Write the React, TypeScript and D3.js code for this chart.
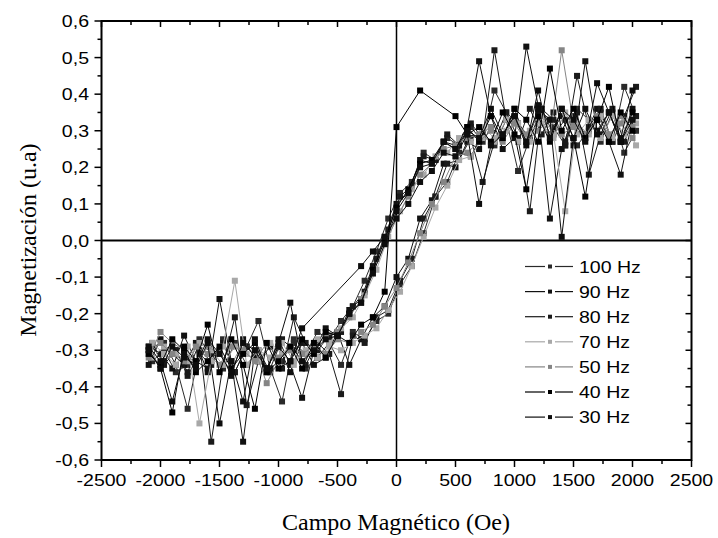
import React, { useEffect, useRef } from 'react';
import * as d3 from 'd3';

// Field values (Oe) of the two sampling grids, descending sweep order
const fieldA = [2030, 1930, 1830, 1730, 1630, 1530, 1430, 1330, 1230, 1130, 1030, 930, 830, 730, 630, 530, 430, 330, 230, 130, 30, -70, -170, -270, -370, -470, -570, -670, -770, -870, -970, -1070, -1170, -1270, -1370, -1470, -1570, -1670, -1770, -1870, -1970, -2070];
const fieldB = [2000, 1900, 1800, 1700, 1600, 1500, 1400, 1300, 1200, 1100, 1000, 900, 800, 700, 600, 500, 400, 300, 200, 100, 0, -100, -200, -300, -400, -500, -600, -700, -800, -900, -1000, -1100, -1200, -1300, -1400, -1500, -1600, -1700, -1800, -1900, -2000, -2100];

// Magnetization (u.a): "down" = decreasing-field branch, "up" = increasing-field branch (same index as field)
const down100 = [0.34, 0.42, 0.27, 0.35, 0.30, 0.26, 0.33, 0.29, 0.36, 0.28, 0.32, 0.35, 0.41, 0.27, 0.31, 0.26, 0.28, 0.22, 0.24, 0.16, 0.13, 0.06, -0.03, -0.11, -0.18, -0.22, -0.27, -0.25, -0.31, -0.28, -0.44, -0.35, -0.22, -0.29, -0.36, -0.27, -0.33, -0.30, -0.46, -0.34, -0.28, -0.29];
const up100 = [0.30, 0.24, 0.35, 0.27, 0.33, 0.36, 0.26, 0.31, 0.35, 0.28, 0.19, 0.33, 0.26, 0.29, 0.23, 0.24, 0.16, 0.12, 0.02, -0.07, -0.12, -0.20, -0.22, -0.27, -0.25, -0.34, -0.28, -0.32, -0.35, -0.27, -0.33, -0.36, -0.30, -0.34, -0.28, -0.35, -0.31, -0.27, -0.34, -0.36, -0.30, -0.33];
const down90 = [0.36, 0.27, 0.35, 0.30, 0.49, 0.26, 0.34, 0.29, 0.37, 0.53, 0.28, 0.25, 0.34, 0.49, 0.31, 0.26, 0.27, 0.21, 0.22, 0.13, 0.10, 0.01, -0.07, -0.16, -0.19, -0.26, -0.24, -0.30, -0.43, -0.34, -0.27, -0.36, -0.30, -0.55, -0.33, -0.16, -0.36, -0.28, -0.34, -0.31, -0.27, -0.34];
const up90 = [0.33, 0.18, 0.27, 0.36, 0.29, 0.34, 0.25, 0.06, 0.35, 0.27, 0.36, 0.28, 0.31, 0.25, 0.27, 0.20, 0.21, 0.11, 0.06, -0.05, -0.10, -0.18, -0.21, -0.27, -0.34, -0.25, -0.32, -0.34, -0.28, -0.36, -0.29, -0.35, -0.32, -0.27, -0.37, -0.30, -0.35, -0.33, -0.26, -0.35, -0.31, -0.29];
const down80 = [0.42, 0.34, 0.27, 0.36, 0.31, 0.45, 0.26, 0.35, 0.29, 0.36, 0.27, 0.33, 0.52, 0.28, 0.32, 0.26, 0.29, 0.22, 0.23, 0.15, 0.12, 0.03, -0.05, -0.14, -0.18, -0.25, -0.26, -0.30, -0.28, -0.21, -0.35, -0.29, -0.33, -0.45, -0.21, -0.34, -0.55, -0.28, -0.36, -0.30, -0.34, -0.28];
const up80 = [0.34, 0.27, 0.36, 0.29, 0.18, 0.35, 0.27, 0.33, 0.36, 0.08, 0.28, 0.35, 0.27, 0.16, 0.28, 0.22, 0.21, 0.12, 0.06, -0.05, -0.11, -0.19, -0.21, -0.28, -0.26, -0.42, -0.31, -0.28, -0.34, -0.30, -0.27, -0.35, -0.33, -0.29, -0.36, -0.28, -0.34, -0.31, -0.37, -0.30, -0.33, -0.29];
const down70 = [0.26, 0.33, 0.28, 0.34, 0.29, 0.32, 0.08, 0.29, 0.34, 0.27, 0.32, 0.30, 0.28, 0.31, 0.27, 0.28, 0.24, 0.23, 0.18, 0.14, 0.08, 0.01, -0.08, -0.15, -0.21, -0.24, -0.28, -0.27, -0.31, -0.33, -0.28, -0.32, -0.30, -0.34, -0.11, -0.29, -0.33, -0.50, -0.29, -0.34, -0.31, -0.28];
const up70 = [0.32, 0.29, 0.34, 0.28, 0.33, 0.29, 0.35, 0.28, 0.32, 0.30, 0.27, 0.33, 0.27, 0.28, 0.23, 0.22, 0.15, 0.09, 0.01, -0.07, -0.14, -0.19, -0.24, -0.26, -0.28, -0.30, -0.29, -0.32, -0.30, -0.34, -0.31, -0.28, -0.33, -0.31, -0.29, -0.34, -0.30, -0.28, -0.33, -0.31, -0.29, -0.32];
const down50 = [0.31, 0.34, 0.28, 0.33, 0.29, 0.32, 0.52, 0.28, 0.34, 0.29, 0.32, 0.27, 0.31, 0.29, 0.28, 0.26, 0.25, 0.21, 0.18, 0.12, 0.06, -0.01, -0.09, -0.16, -0.21, -0.25, -0.26, -0.29, -0.31, -0.29, -0.33, -0.39, -0.30, -0.28, -0.34, -0.31, -0.29, -0.34, -0.30, -0.28, -0.25, -0.32];
const up50 = [0.28, 0.32, 0.29, 0.34, 0.28, 0.31, 0.29, 0.33, 0.30, 0.27, 0.32, 0.29, 0.30, 0.27, 0.24, 0.23, 0.16, 0.10, 0.02, -0.06, -0.13, -0.18, -0.23, -0.25, -0.28, -0.27, -0.31, -0.29, -0.33, -0.30, -0.32, -0.28, -0.33, -0.30, -0.29, -0.34, -0.31, -0.29, -0.33, -0.31, -0.28, -0.31];
const down40 = [0.35, 0.27, 0.42, 0.33, 0.28, 0.36, 0.30, 0.47, 0.27, 0.33, 0.36, 0.28, 0.34, 0.27, 0.31, 0.25, 0.27, 0.22, 0.21, 0.14, 0.09, 0.00, -0.08, -0.17, -0.20, -0.26, -0.25, -0.31, -0.27, -0.33, -0.35, -0.28, -0.46, -0.34, -0.27, -0.36, -0.23, -0.33, -0.29, -0.47, -0.35, -0.30];
const up40 = [0.30, 0.35, 0.27, 0.33, 0.12, 0.28, 0.36, 0.27, 0.34, 0.14, 0.29, 0.35, 0.27, 0.31, 0.29, 0.34, null, null, 0.41, null, 0.31, -0.14, -0.21, -0.23, -0.28, -0.26, -0.32, -0.28, -0.35, -0.29, -0.33, -0.36, -0.28, -0.31, -0.35, -0.29, -0.33, -0.36, -0.30, -0.27, -0.34, -0.31];
const down30 = [0.41, 0.28, 0.35, 0.43, 0.27, 0.33, 0.36, 0.28, 0.41, 0.26, 0.34, 0.29, 0.36, 0.28, 0.30, 0.25, 0.27, 0.21, 0.20, 0.13, 0.08, -0.01, -0.09, -0.17, -0.20, -0.26, -0.27, -0.30, -0.33, -0.17, -0.28, -0.35, -0.27, -0.44, -0.33, -0.50, -0.28, -0.35, -0.31, -0.44, -0.33, -0.29];
const up30 = [0.33, 0.27, 0.35, 0.29, 0.36, 0.28, 0.01, 0.33, 0.36, 0.27, 0.34, 0.29, 0.26, 0.10, 0.29, 0.23, 0.24, 0.19, 0.16, 0.10, 0.06, 0.01, -0.03, -0.07, null, null, null, null, -0.24, -0.33, -0.29, -0.35, -0.30, -0.28, -0.36, -0.31, -0.27, -0.34, -0.32, -0.29, -0.35, -0.30];

const seriesNames = ['100 Hz', '90 Hz', '80 Hz', '70 Hz', '50 Hz', '40 Hz', '30 Hz'];
const seriesFields = [fieldA, fieldB, fieldA, fieldA, fieldB, fieldB, fieldB];
const seriesDown = [down100, down90, down80, down70, down50, down40, down30];
const seriesUp = [up100, up90, up80, up70, up50, up40, up30];
const seriesColors = ['#2a2a2a', '#111111', '#1a1a1a', '#a8a8a8', '#858585', '#000000', '#0d0d0d'];

const xTicks = [-2500, -2000, -1500, -1000, -500, 0, 500, 1000, 1500, 2000, 2500];
const yTicks = [-0.6, -0.5, -0.4, -0.3, -0.2, -0.1, 0, 0.1, 0.2, 0.3, 0.4, 0.5, 0.6];

const W = 718, H = 538;
const L = 101.5, R = 691.5, T = 21, B = 460;
const SANS = "'Liberation Sans', Arial, Helvetica, sans-serif";
const SERIF = "'Liberation Serif', 'Times New Roman', serif";

export default function App() {
  const ref = useRef<SVGSVGElement>(null);
  useEffect(() => {
    const svg = d3.select(ref.current);
    svg.selectAll('*').remove();
    const x = d3.scaleLinear().domain([-2500, 2500]).range([L, R]);
    const y = d3.scaleLinear().domain([-0.6, 0.6]).range([B, T]);
    const fmtY = (v: number) => (Math.abs(v) < 1e-9 ? 0 : v).toFixed(1).replace('.', ',');

    svg.append('rect').attr('width', W).attr('height', H).attr('fill', '#fff');

    // zero lines
    svg.append('line').attr('x1', L).attr('x2', R).attr('y1', y(0)).attr('y2', y(0))
      .attr('stroke', '#000').attr('stroke-width', 2);
    svg.append('line').attr('x1', x(0)).attr('x2', x(0)).attr('y1', T).attr('y2', B)
      .attr('stroke', '#000').attr('stroke-width', 1.5);

    // data
    const line = d3.line<{ h: number; m: number }>().x(d => x(d.h)).y(d => y(d.m));
    seriesNames.forEach((name, s) => {
      const f = seriesFields[s];
      const pts: { h: number; m: number }[] = [];
      seriesDown[s].forEach((m, i) => { if (m !== null) pts.push({ h: f[i], m: m as number }); });
      for (let i = f.length - 1; i >= 0; i--) {
        const m = seriesUp[s][i];
        if (m !== null) pts.push({ h: f[i], m: m as number });
      }
      const g = svg.append('g');
      g.append('path').attr('d', line(pts)).attr('fill', 'none')
        .attr('stroke', seriesColors[s]).attr('stroke-width', 1);
      g.selectAll('rect').data(pts).enter().append('rect')
        .attr('x', d => x(d.h) - 3).attr('y', d => y(d.m) - 3)
        .attr('width', 6).attr('height', 6)
        .attr('fill', seriesColors[s]);
    });

    // frame
    svg.append('rect').attr('x', L).attr('y', T).attr('width', R - L).attr('height', B - T)
      .attr('fill', 'none').attr('stroke', '#000').attr('stroke-width', 2);

    // ticks
    const xMinor = d3.range(-2250, 2500, 500);
    const tk = svg.append('g').attr('stroke', '#000').attr('stroke-width', 1.5);
    xTicks.forEach(v => {
      tk.append('line').attr('x1', x(v)).attr('x2', x(v)).attr('y1', B).attr('y2', B + 7);
      tk.append('line').attr('x1', x(v)).attr('x2', x(v)).attr('y1', T).attr('y2', T + 6);
    });
    xMinor.forEach(v => {
      tk.append('line').attr('x1', x(v)).attr('x2', x(v)).attr('y1', B).attr('y2', B + 4);
      tk.append('line').attr('x1', x(v)).attr('x2', x(v)).attr('y1', T).attr('y2', T + 4);
    });
    const yMinor = d3.range(-0.55, 0.6, 0.1);
    yTicks.forEach(v => {
      tk.append('line').attr('x1', L - 7).attr('x2', L).attr('y1', y(v)).attr('y2', y(v));
      tk.append('line').attr('x1', R - 6).attr('x2', R).attr('y1', y(v)).attr('y2', y(v));
    });
    yMinor.forEach(v => {
      tk.append('line').attr('x1', L - 4).attr('x2', L).attr('y1', y(v)).attr('y2', y(v));
      tk.append('line').attr('x1', R - 4).attr('x2', R).attr('y1', y(v)).attr('y2', y(v));
    });

    // tick labels
    xTicks.forEach(v => {
      svg.append('g').attr('transform', `translate(${x(v)},486) scale(1.15,1)`)
        .append('text').attr('text-anchor', 'middle').attr('font-family', SANS)
        .attr('font-size', 17).attr('fill', '#000').text(String(v));
    });
    yTicks.forEach(v => {
      svg.append('g').attr('transform', `translate(89,${y(v) + 6}) scale(1.15,1)`)
        .append('text').attr('text-anchor', 'end').attr('font-family', SANS)
        .attr('font-size', 17).attr('fill', '#000').text(fmtY(v));
    });

    // axis titles
    svg.append('text').attr('x', 396).attr('y', 530).attr('text-anchor', 'middle')
      .attr('font-family', SERIF).attr('font-size', 24).attr('fill', '#000')
      .text('Campo Magnético (Oe)');
    svg.append('text').attr('transform', 'translate(36,240) rotate(-90)').attr('text-anchor', 'middle')
      .attr('font-family', SERIF).attr('font-size', 24).attr('fill', '#000')
      .text('Magnetización (u.a)');

    // legend
    seriesNames.forEach((name, s) => {
      const ly = 266.5 + s * 25.1;
      const g = svg.append('g');
      g.append('line').attr('x1', 525).attr('x2', 545).attr('y1', ly).attr('y2', ly)
        .attr('stroke', seriesColors[s]).attr('stroke-width', 1.2);
      g.append('line').attr('x1', 555).attr('x2', 573).attr('y1', ly).attr('y2', ly)
        .attr('stroke', seriesColors[s]).attr('stroke-width', 1.2);
      g.append('rect').attr('x', 548).attr('y', ly - 2).attr('width', 4).attr('height', 4)
        .attr('fill', seriesColors[s]);
      g.append('g').attr('transform', `translate(579,${ly + 6}) scale(1.15,1)`)
        .append('text').attr('font-family', SANS).attr('font-size', 17).attr('fill', '#000')
        .text(name);
    });
  }, []);
  return (
    <svg ref={ref} width={W} height={H}
      style={{ position: 'absolute', left: 0, top: 0, background: '#fff' }} />
  );
}
